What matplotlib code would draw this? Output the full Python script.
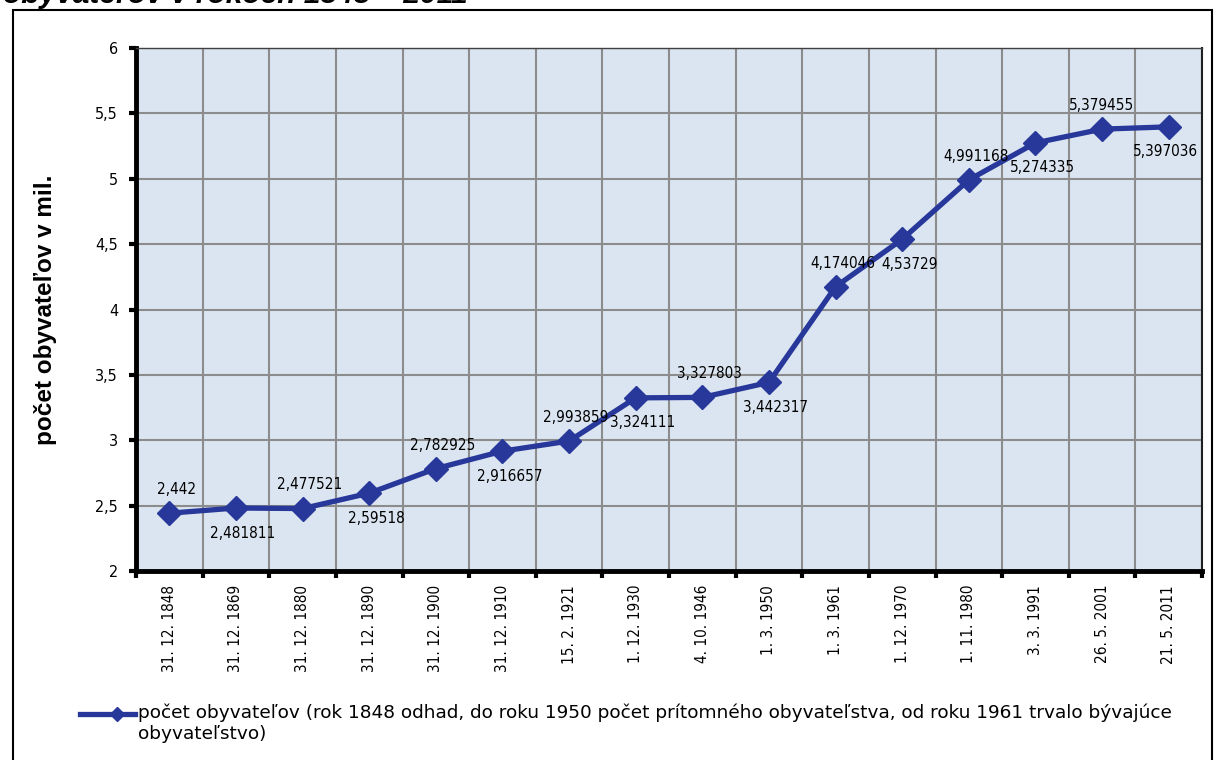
import matplotlib
matplotlib.use("Agg")
import matplotlib.pyplot as plt
from matplotlib.patches import Rectangle
from matplotlib.lines import Line2D

# census dates and population (millions)
dates = ["31. 12. 1848", "31. 12. 1869", "31. 12. 1880", "31. 12. 1890",
         "31. 12. 1900", "31. 12. 1910", "15. 2. 1921", "1. 12. 1930",
         "4. 10. 1946", "1. 3. 1950", "1. 3. 1961", "1. 12. 1970",
         "1. 11. 1980", "3. 3. 1991", "26. 5. 2001", "21. 5. 2011"]
population = [2.442, 2.481811, 2.477521, 2.59518, 2.782925, 2.916657,
              2.993859, 3.324111, 3.327803, 3.442317, 4.174046, 4.53729,
              4.991168, 5.274335, 5.379455, 5.397036]
y_ticks = [2, 2.5, 3, 3.5, 4, 4.5, 5, 5.5, 6]

title = "obyvateľov v rokoch 1848 – 2011"
y_label = "počet obyvateľov v mil."
legend_label = ("počet obyvateľov (rok 1848 odhad, do roku 1950 počet prítomného obyvateľstva, "
                "od roku 1961 trvalo bývajúce\nobyvateľstvo)")

NARROW = dict(family=["DejaVu Sans"], fontstretch="condensed")
ARIAL = ["Liberation Sans", "DejaVu Sans"]
LINE_COLOR = "#27379a"
W, H = 1215, 760

fig = plt.figure(figsize=(W / 100, H / 100), dpi=100)
ax = fig.add_axes([136 / W, 1 - 571 / H, 1066 / W, 523 / H])

# outer chart frame (title sits above it, mostly cut off)
fig.patches.append(Rectangle((13 / W, -0.05), 1199 / W, 1.05 - 10 / H,
                             transform=fig.transFigure, fill=False,
                             edgecolor="black", linewidth=1.5))
fig.text(3 / W, 1 - 3 / H, title, fontsize=21.5, fontweight="bold", fontstyle="italic",
         family=ARIAL, va="baseline", ha="left")

x = list(range(len(dates)))
ax.set_facecolor("#dbe5f1")
ax.plot(x, population, color=LINE_COLOR, linewidth=3.8, marker="D",
        markersize=12, markerfacecolor=LINE_COLOR, markeredgecolor=LINE_COLOR,
        zorder=3, clip_on=False)

n = len(population)
for i, v in enumerate(population):
    lbl = str(v).replace(".", ",")
    dy = 17 if i % 2 == 0 else -18
    dx = 5
    if i == n - 2:
        dx = 0
    elif i == n - 1:
        dx = -2
    ax.annotate(lbl, (i, v), xytext=(dx, dy), textcoords="offset points",
                ha="center", va="center", fontsize=11, zorder=4, **NARROW)

ax.set_xlim(-0.5, len(dates) - 0.5)
ax.set_ylim(2, 6)
ax.set_yticks(y_ticks)
ax.set_yticklabels([f"{t:g}".replace(".", ",") for t in y_ticks], fontsize=11.5, **NARROW)
ax.set_xticks(x)
ax.set_xticklabels(dates, rotation=90, fontsize=11, va="top", **NARROW)
ax.set_xticks([i - 0.5 for i in range(len(dates) + 1)], minor=True)
ax.tick_params(axis="x", which="major", length=0, pad=10)
ax.tick_params(axis="x", which="minor", length=5, width=3, direction="out")
ax.tick_params(axis="y", length=5, width=3, direction="out", pad=8)

ax.grid(True, axis="y", which="major", color="#8c8c8c", linewidth=1.5)
ax.grid(True, axis="x", which="minor", color="#8c8c8c", linewidth=1.5)
ax.set_axisbelow(True)

ax.spines["left"].set_linewidth(3.5)
ax.spines["bottom"].set_linewidth(3.5)
ax.spines["top"].set_linewidth(1.0)
ax.spines["top"].set_color("#404040")
ax.spines["right"].set_linewidth(1.5)
ax.spines["right"].set_color("#202020")

ax.set_ylabel(y_label, fontsize=17.5, fontweight="bold", family=ARIAL)
ax.yaxis.set_label_coords(-0.074, 0.5)

# legend drawn by hand so the key sits on the first text line
ly = 1 - 714 / H
fig.add_artist(Line2D([80 / W, 135 / W], [ly, ly], transform=fig.transFigure,
                      color=LINE_COLOR, linewidth=3.8))
fig.add_artist(Line2D([117 / W], [ly], transform=fig.transFigure, color=LINE_COLOR,
                      marker="D", markersize=7, linestyle="none"))
fig.text(138 / W, 1 - 704 / H, legend_label, fontsize=13.3, family=["DejaVu Sans"],
         va="top", ha="left", linespacing=1.15)

fig.savefig("out.png", dpi=100)
